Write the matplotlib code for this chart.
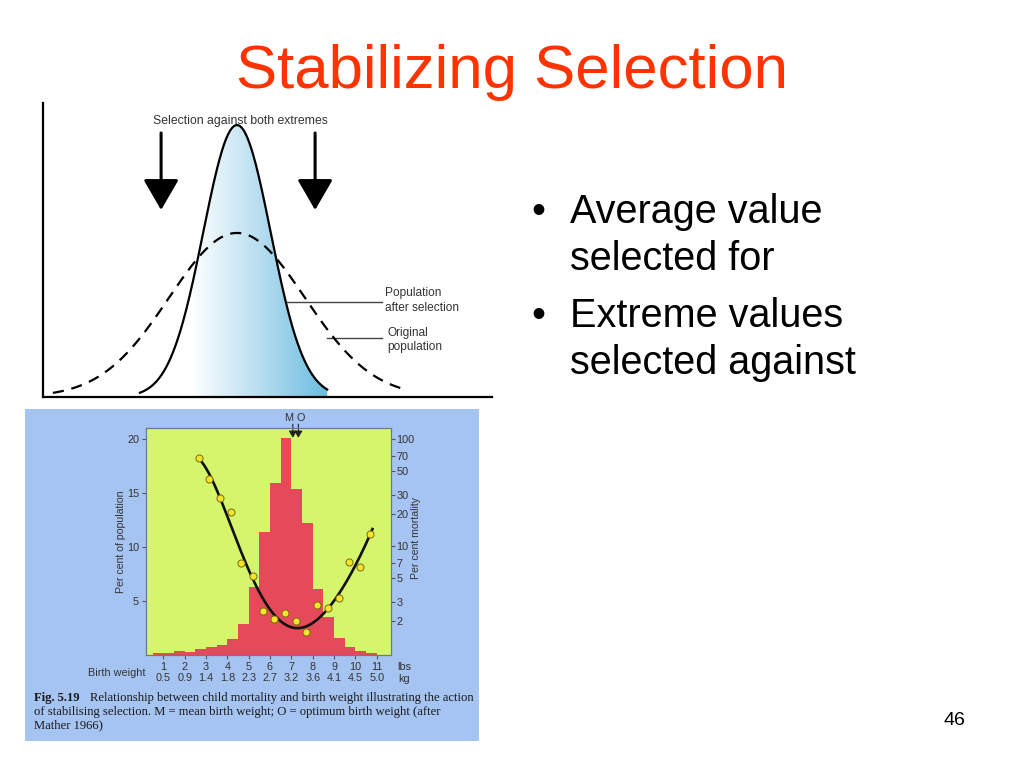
import numpy as np
import matplotlib
matplotlib.use("Agg")
import matplotlib.pyplot as plt
from matplotlib.patches import Rectangle
from matplotlib.colors import LinearSegmentedColormap
from matplotlib.ticker import NullLocator

# --- data ---
# top sketch: two normal curves (mean, sd, peak height in axis units)
after_mean, after_sd, after_peak = 4.32, 0.75, 0.925
orig_mean, orig_sd, orig_peak = 4.32, 1.51, 0.558

# bottom figure: birth weight histogram (0.5 lb bins from 0.5 to 11 lb)
bin_left = [0.5, 1.0, 1.5, 2.0, 2.5, 3.0, 3.5, 4.0, 4.5, 5.0, 5.5, 6.0, 6.5,
            7.0, 7.5, 8.0, 8.5, 9.0, 9.5, 10.0, 10.5]
pop_pct = [0.15, 0.15, 0.4, 0.25, 0.55, 0.77, 0.92, 1.48, 2.84, 6.3, 11.4, 15.9, 20.1,
           15.4, 12.2, 6.1, 3.55, 1.55, 0.77, 0.4, 0.2]

# mortality points (per cent, log axis)
dot_lbs = [2.66, 3.16, 3.68, 4.19, 4.66, 5.21, 5.69, 6.2, 6.71, 7.23, 7.71,
           8.21, 8.73, 9.23, 9.7, 10.2, 10.67]
dot_mort = [66, 42.3, 28.1, 20.7, 7.0, 5.3, 2.47, 2.07, 2.37, 2.0, 1.56,
            2.79, 2.65, 3.29, 7.13, 6.37, 12.9]

# points along the fitted mortality curve
curve_lbs = [2.66, 3.19, 3.71, 4.13, 4.60, 5.06, 5.53, 6.00, 6.55, 7.33, 8.11,
             8.74, 9.20, 9.67, 10.14, 10.80]
curve_mort = [66, 43, 29, 16.9, 8.9, 5.4, 3.5, 2.5, 2.1, 1.8, 1.96,
              2.43, 3.36, 5.36, 7.67, 14.1]

lbs_ticks = [1, 2, 3, 4, 5, 6, 7, 8, 9, 10, 11]
kg_labels = ["0.5", "0.9", "1.4", "1.8", "2.3", "2.7", "3.2", "3.6", "4.1", "4.5", "5.0"]
pop_ticks = [5, 10, 15, 20]
mort_ticks = [2, 3, 5, 7, 10, 20, 30, 50, 70, 100]
mean_lb, optimum_lb = 7.07, 7.33

plt.rcParams["font.family"] = ["Liberation Sans", "DejaVu Sans"]

W, H = 1024, 768
fig = plt.figure(figsize=(10.24, 7.68), dpi=100)
fig.patch.set_facecolor("white")


def fx(x):
    return x / W


def fy(y):
    return 1 - y / H


def box(x0, y0, x1, y1):
    return [x0 / W, 1 - y1 / H, (x1 - x0) / W, (y1 - y0) / H]


# --- slide text ---
fig.text(fx(511.5), fy(88), "Stabilizing Selection", ha="center", va="baseline",
         fontsize=44.5, color="#ff3300")

bullets = [("Average value", "selected for", 223), ("Extreme values", "selected against", 327)]
for l1, l2, base in bullets:
    fig.text(fx(531), fy(base), "\u2022", fontsize=28.5, va="baseline")
    fig.text(fx(570), fy(base), l1, fontsize=28.5, va="baseline")
    fig.text(fx(570), fy(base + 47), l2, fontsize=28.5, va="baseline")

fig.text(fx(944), fy(725), "46", fontsize=14, va="baseline")

# --- top sketch ---
ax1 = fig.add_axes(box(43, 103, 492, 397))
ax1.set_xlim(0, 10)
ax1.set_ylim(0, 1)
ax1.set_xticks([])
ax1.set_yticks([])
for s in ["top", "right"]:
    ax1.spines[s].set_visible(False)
for s in ["left", "bottom"]:
    ax1.spines[s].set_linewidth(1.6)
    ax1.spines[s].set_color("black")
ax1.patch.set_alpha(0)

xa = np.linspace(2.16, 6.33, 300)
ya = after_peak * np.exp(-0.5 * ((xa - after_mean) / after_sd) ** 2)
xo = np.linspace(0.22, 8.0, 300)
yo = orig_peak * np.exp(-0.5 * ((xo - orig_mean) / orig_sd) ** 2)

fill = ax1.fill_between(xa, 0, ya, color="none")
cmap = LinearSegmentedColormap.from_list("sel", ["#ffffff", "#b8def0", "#6cbde0"])
gx = np.linspace(2.1, 6.4, 200)
grad = np.clip((gx - 3.3) / (6.3 - 3.3), 0, 1)[None, :]
img = ax1.imshow(grad, extent=[2.1, 6.4, 0, 1], aspect="auto", cmap=cmap,
                 vmin=0, vmax=1, origin="lower", zorder=1)
img.set_clip_path(fill.get_paths()[0], transform=ax1.transData)

ax1.plot(xa, ya, color="black", lw=1.6, zorder=3)
ax1.plot(xo, yo, color="black", lw=1.6, ls=(0, (5, 3.5)), zorder=3)

for ax_x in [2.63, 6.06]:
    ax1.annotate("", xy=(ax_x, 0.636), xytext=(ax_x, 0.898),
                 arrowprops=dict(arrowstyle="-|>,head_length=0.95,head_width=0.55",
                                 lw=2.2, color="black", mutation_scale=20,
                                 shrinkA=0, shrinkB=0))

ax1.plot([5.43, 7.55], [0.323, 0.323], color="#444444", lw=1)
ax1.plot([6.33, 7.55], [0.2, 0.2], color="#444444", lw=1)

fig.text(fx(240), fy(121), "Selection against both extremes", ha="center", va="center",
         fontsize=8.8, color="#333333")
fig.text(fx(385), fy(300.5), "Population\nafter selection", ha="left", va="center",
         fontsize=8.6, color="#333333", linespacing=1.3)
fig.text(fx(387), fy(340), "Original\npopulation", ha="left", va="center",
         fontsize=8.6, color="#333333", linespacing=1.3)

# --- bottom figure ---
fig.add_artist(Rectangle((fx(25), fy(741)), (479 - 25) / W, (741 - 409) / H,
                         transform=fig.transFigure, facecolor="#a6c4f2",
                         edgecolor="none", zorder=-1))

ax2 = fig.add_axes(box(146, 428, 391, 655))
ax2.set_facecolor("#d5f56d")
ax2.set_xlim(0.19, 11.67)
ax2.set_ylim(0, 21)
ax2.bar(bin_left, pop_pct, width=0.5, align="edge", color="#e64a5a", linewidth=0)

ax2.set_xticks(lbs_ticks)
ax2.set_xticklabels([f"{a}\n{b}" for a, b in zip(lbs_ticks, kg_labels)],
                    fontsize=7.8, color="#333333", linespacing=1.1)
ax2.set_yticks(pop_ticks)
ax2.set_yticklabels([str(v) for v in pop_ticks], fontsize=7.8, color="#333333")
ax2.tick_params(axis="both", direction="out", length=3, width=0.8, color="#555555", pad=2)

ax3 = ax2.twinx()
ax3.set_yscale("log")
ax3.set_ylim(0.958, 126.8)
ax3.set_yticks(mort_ticks)
ax3.set_yticklabels([str(v) for v in mort_ticks], fontsize=7.8, color="#333333")
ax3.yaxis.set_minor_locator(NullLocator())
ax3.tick_params(axis="y", direction="out", length=3, width=0.8, color="#555555", pad=1)

coef = np.polyfit(curve_lbs, np.log10(curve_mort), 5)
cx = np.linspace(curve_lbs[0], curve_lbs[-1], 300)
ax3.plot(cx, 10 ** np.polyval(coef, cx), color="#111111", lw=1.9, zorder=3)
ax3.scatter(dot_lbs, dot_mort, s=26, facecolor="#f3e52c", edgecolor="#7a6a10",
            linewidth=0.7, zorder=4)

for a in (ax2, ax3):
    for s in a.spines.values():
        s.set_color("#6a7890")
        s.set_linewidth(0.8)

for xv in (mean_lb, optimum_lb):
    ax2.annotate("", xy=(xv, 20.1), xytext=(xv, 21.35),
                 arrowprops=dict(arrowstyle="-|>,head_length=0.5,head_width=0.3",
                                 lw=0.8, color="#222222", mutation_scale=8,
                                 shrinkA=0, shrinkB=0),
                 annotation_clip=False)
ax2.text(mean_lb - 0.2, 21.5, "M", ha="center", va="bottom", fontsize=7.8,
         color="#333333", clip_on=False)
ax2.text(optimum_lb + 0.1, 21.5, "O", ha="center", va="bottom", fontsize=7.8,
         color="#333333", clip_on=False)

fig.text(fx(121), fy(542), "Per cent of population", rotation=90, ha="center",
         va="center", fontsize=7.6, color="#333333")
fig.text(fx(416), fy(538), "Per cent mortality", rotation=90, ha="center",
         va="center", fontsize=7.6, color="#333333")
fig.text(fx(145), fy(673), "Birth weight", ha="right", va="center", fontsize=7.8,
         color="#333333")
fig.text(fx(397), fy(667), "lbs", ha="left", va="center", fontsize=7.8, color="#333333")
fig.text(fx(398), fy(678.5), "kg", ha="left", va="center", fontsize=7.8, color="#333333")

serif = ["Liberation Serif", "DejaVu Serif"]
cap_fs = 9.1
fig.text(fx(34), fy(698), "Fig. 5.19", ha="left", va="center", fontsize=cap_fs,
         fontweight="bold", family=serif, color="#1a1a1a")
fig.text(fx(90), fy(698), "Relationship between child mortality and birth weight "
         "illustrating the action", ha="left", va="center", fontsize=cap_fs,
         family=serif, color="#1a1a1a")
fig.text(fx(34), fy(711.5), "of stabilising selection. M = mean birth weight; "
         "O = optimum birth weight (after", ha="left", va="center", fontsize=cap_fs,
         family=serif, color="#1a1a1a")
fig.text(fx(34), fy(725), "Mather 1966)", ha="left", va="center", fontsize=cap_fs,
         family=serif, color="#1a1a1a")

fig.savefig("out.png", dpi=100)
